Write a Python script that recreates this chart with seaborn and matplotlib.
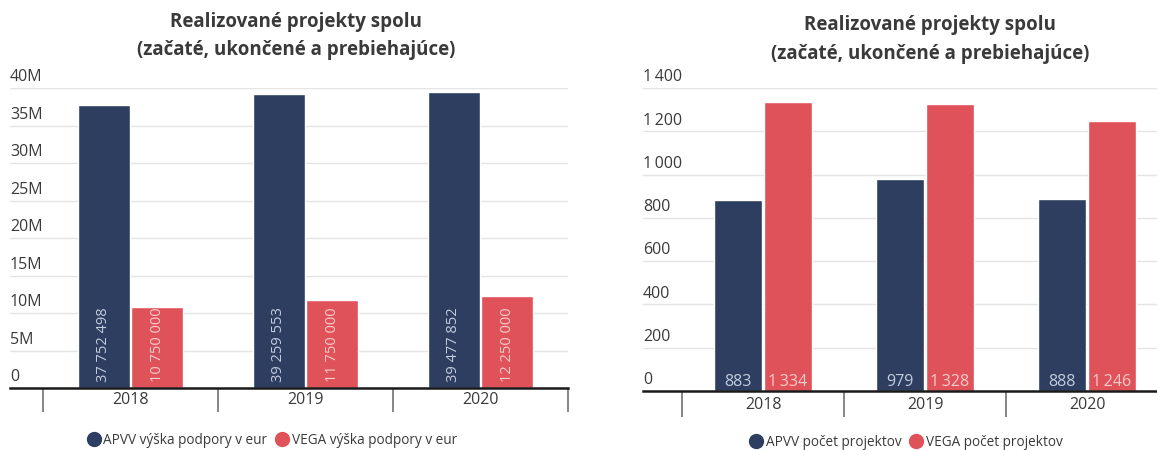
import pandas as pd
import matplotlib.pyplot as plt
import seaborn as sns
from matplotlib.lines import Line2D
from matplotlib.ticker import FixedLocator

# data
roky = ['2018', '2019', '2020']
apvv_eur = [37752498, 39259553, 39477852]
vega_eur = [10750000, 11750000, 12250000]
apvv_pocet = [883, 979, 888]
vega_pocet = [1334, 1328, 1246]

serie_eur = ['APVV výška podpory v eur', 'VEGA výška podpory v eur']
serie_pocet = ['APVV počet projektov', 'VEGA počet projektov']

ticks_eur = [0, 5e6, 10e6, 15e6, 20e6, 25e6, 30e6, 35e6, 40e6]
ticks_eur_lbl = ['0', '5M', '10M', '15M', '20M', '25M', '30M', '35M', '40M']
ticks_pocet = [0, 200, 400, 600, 800, 1000, 1200, 1400]
ticks_pocet_lbl = ['0', '200', '400', '600', '800', '1\u2009000', '1\u2009200', '1\u2009400']

navy = '#2d3e61'
red = '#e05259'
text_c = '#3a3a3a'

sns.set_style('white')
plt.rcParams['font.family'] = ['Open Sans', 'DejaVu Sans']

df_eur = pd.DataFrame({
    'rok': roky * 2,
    'hodnota': apvv_eur + vega_eur,
    'seria': [serie_eur[0]] * 3 + [serie_eur[1]] * 3,
})
df_pocet = pd.DataFrame({
    'rok': roky * 2,
    'hodnota': apvv_pocet + vega_pocet,
    'seria': [serie_pocet[0]] * 3 + [serie_pocet[1]] * 3,
})

fig = plt.figure(figsize=(11.57, 4.5), dpi=100)
W, H = 1157, 450

ax1 = fig.add_axes([10 / W, 1 - 388 / H, 558 / W, 300 / H])
ax2 = fig.add_axes([643 / W, 1 - 391 / H, 525 / W, 303 / H])


def style_axes(ax, ticks, tick_lbls, xlim, ylim, sep_len, xpad):
    ax.set_xlim(*xlim)
    ax.set_ylim(*ylim)
    for s in ['left', 'right', 'top']:
        ax.spines[s].set_visible(False)
    ax.spines['bottom'].set_color('#1a1a1a')
    ax.spines['bottom'].set_linewidth(1.8)
    ax.spines['bottom'].set_zorder(5)
    ax.set_yticks(ticks)
    ax.set_yticklabels([])
    ax.tick_params(axis='y', length=0)
    ax.yaxis.grid(True, color='#e4e4e4', linewidth=1)
    ax.set_axisbelow(True)
    for v, lbl in zip(ticks, tick_lbls):
        ax.annotate(lbl, xy=(0, v), xycoords=('axes fraction', 'data'),
                    xytext=(0, 2), textcoords='offset points',
                    ha='left', va='bottom', fontsize=11.5, color=text_c)
    ax.xaxis.set_minor_locator(FixedLocator([-0.5, 0.5, 1.5, 2.5]))
    ax.tick_params(axis='x', which='major', bottom=True, length=0, pad=xpad,
                   labelsize=11.5, labelcolor=text_c)
    ax.tick_params(axis='x', which='minor', bottom=True, length=sep_len, width=1.1,
                   color='#666666', direction='out')
    ax.set_xlabel('')
    ax.set_ylabel('')


# lavy graf - vyska podpory
sns.barplot(data=df_eur, x='rok', y='hodnota', hue='seria', palette=[navy, red],
            width=0.61, gap=0.03, saturation=1, legend=False, ax=ax1)
style_axes(ax1, ticks_eur, ticks_eur_lbl, (-0.689, 2.5), (0, 40e6), 17, 3)

for i, (cont, vals) in enumerate(zip(ax1.containers, [apvv_eur, vega_eur])):
    lc = '#c3cbdc' if i == 0 else '#f7cccc'
    for bar, v in zip(cont, vals):
        ax1.annotate(f'{v:,}'.replace(',', ' '),
                     xy=(bar.get_x() + bar.get_width() / 2, 0),
                     xytext=(0, 4), textcoords='offset points',
                     rotation=90, ha='center', va='bottom',
                     fontsize=10.5, color=lc)

# pravy graf - pocet projektov
sns.barplot(data=df_pocet, x='rok', y='hodnota', hue='seria', palette=[navy, red],
            width=0.61, gap=0.03, saturation=1, legend=False, ax=ax2)
style_axes(ax2, ticks_pocet, ticks_pocet_lbl, (-0.741, 2.5), (0, 1400), 19, 4.5)

for i, (cont, vals) in enumerate(zip(ax2.containers, [apvv_pocet, vega_pocet])):
    lc = '#c3cbdc' if i == 0 else '#f7cccc'
    for bar, v in zip(cont, vals):
        ax2.annotate(f'{v:,}'.replace(',', '\u2009'),
                     xy=(bar.get_x() + bar.get_width() / 2, 0),
                     xytext=(0, 1), textcoords='offset points',
                     ha='center', va='bottom', fontsize=11.5, color=lc)

# titulky
for cx, y1, y2 in [(296, 22, 50), (930, 25, 54)]:
    fig.text(cx / W, 1 - y1 / H, 'Realizované projekty spolu', ha='center', va='center',
             fontsize=13.5, fontweight='bold', color=text_c)
    fig.text(cx / W, 1 - y2 / H, '(začaté, ukončené a prebiehajúce)', ha='center', va='center',
             fontsize=13.5, fontweight='bold', color=text_c)

# legendy
for labels, cx, cy in [(serie_eur, 272, 440), (serie_pocet, 906, 442)]:
    handles = [Line2D([], [], marker='o', linestyle='', markersize=10,
                      markerfacecolor=c, markeredgecolor=c) for c in [navy, red]]
    fig.legend(handles, labels, loc='center', bbox_to_anchor=(cx / W, 1 - cy / H),
               ncol=2, frameon=False, fontsize=9.8, handletextpad=0.2,
               columnspacing=0.6, handlelength=1.0, labelcolor=text_c)

fig.savefig('out.png', dpi=100)
